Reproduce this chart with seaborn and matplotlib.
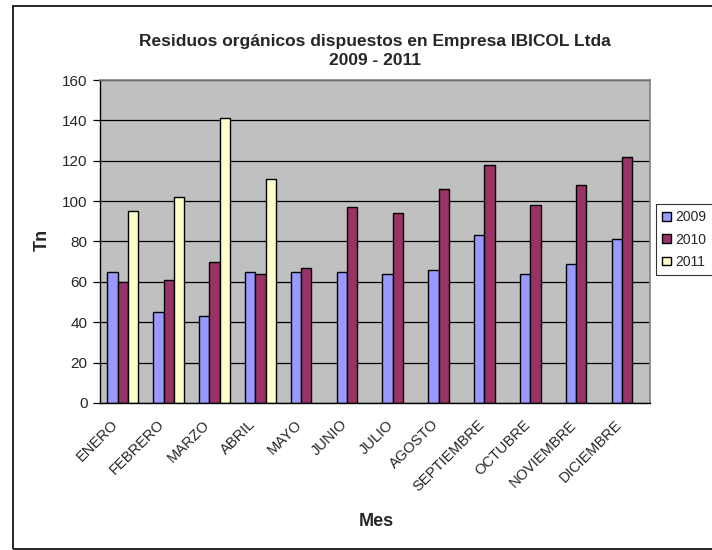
import pandas as pd
import numpy as np
import matplotlib
matplotlib.use('Agg')
import matplotlib.pyplot as plt
import matplotlib.transforms as mtransforms
import seaborn as sns
from matplotlib.patches import Rectangle

# Data (Tn per month)
meses = ['ENERO', 'FEBRERO', 'MARZO', 'ABRIL', 'MAYO', 'JUNIO', 'JULIO',
         'AGOSTO', 'SEPTIEMBRE', 'OCTUBRE', 'NOVIEMBRE', 'DICIEMBRE']
anios = ['2009', '2010', '2011']
v2009 = [65, 45, 43, 65, 65, 65, 64, 66, 83, 64, 69, 81]
v2010 = [60, 61, 70, 64, 67, 97, 94, 106, 118, 98, 108, 122]
v2011 = [95, 102, 141, 111, np.nan, np.nan, np.nan, np.nan, np.nan, np.nan, np.nan, np.nan]
colores = ['#9999FF', '#993366', '#FFFFCC']

df = pd.DataFrame({'Mes': meses, '2009': v2009, '2010': v2010, '2011': v2011})
df = df.melt(id_vars='Mes', var_name='Año', value_name='Tn')

sns.set_style('white')
plt.rcParams['font.family'] = ['Liberation Sans', 'DejaVu Sans']

fig = plt.figure(figsize=(7.12, 5.5), dpi=100)
ax = fig.add_axes([100 / 712, 1 - 403 / 550, 550 / 712, 323 / 550])
ax.set_facecolor('#C0C0C0')

sns.barplot(data=df, x='Mes', y='Tn', hue='Año', hue_order=anios, order=meses,
            palette=colores, width=0.68, edgecolor='black', linewidth=1.0,
            saturation=1, ax=ax, legend=True)

ax.set_ylim(0, 160)
ax.set_yticks(range(0, 161, 20))
ax.set_xlim(-0.5, len(meses) - 0.5)
ax.yaxis.grid(True, color='black', linewidth=0.9)
ax.set_axisbelow(True)

# x ticks at category borders, labels at centers
ax.set_xticks(np.arange(len(meses)))
ax.set_xticks(np.arange(-0.5, len(meses), 1), minor=True)
ax.tick_params(axis='x', which='major', length=0, pad=4)
ax.tick_params(axis='x', which='minor', length=5, width=0.9, color='black', direction='out')
ax.tick_params(axis='y', length=5, width=0.9, color='black', direction='out',
               labelsize=11, left=True, pad=4)
ax.set_xticklabels(meses, rotation=45, ha='right', rotation_mode='anchor', fontsize=10.5)
# nudge rotated month labels left/down like the reference
shift = mtransforms.ScaledTranslation(-12 / 100, -9 / 100, fig.dpi_scale_trans)
for lbl in ax.get_xticklabels():
    lbl.set_transform(lbl.get_transform() + shift)

for s in ['left', 'bottom']:
    ax.spines[s].set_color('black')
    ax.spines[s].set_linewidth(1.0)
for s in ['top', 'right']:
    ax.spines[s].set_visible(True)
    ax.spines[s].set_color('#808080')
    ax.spines[s].set_linewidth(1.2)

ax.set_xlabel('Mes', fontsize=13, fontweight='bold')
ax.xaxis.set_label_coords((376 - 100) / 550, -(522 - 403) / 323)
ax.xaxis.label.set_va('center')
ax.set_ylabel('Tn', fontsize=13, fontweight='bold')
ax.yaxis.set_label_coords(-(100 - 42) / 550, (403 - 240) / 323)
ax.yaxis.label.set_va('center')
ax.set_title('Residuos orgánicos dispuestos en Empresa IBICOL Ltda\n2009 - 2011',
             fontsize=12.5, fontweight='bold', pad=11, linespacing=1.35)

leg = ax.legend(loc='upper left', bbox_to_anchor=(656 / 712, 1 - 204 / 550),
                bbox_transform=fig.transFigure, frameon=True, fancybox=False,
                fontsize=10, handlelength=0.6, handleheight=0.6, handletextpad=0.35,
                labelspacing=0.6, borderpad=0.45, borderaxespad=0)
leg.get_frame().set_edgecolor('black')
leg.get_frame().set_linewidth(0.8)
leg.set_title(None)

# outer chart border (clipped at the right edge like the reference)
fig.patches.append(Rectangle((12.5 / 712, 1.5 / 550), 1.0, 1 - 7.5 / 550,
                             transform=fig.transFigure, fill=False,
                             edgecolor='black', linewidth=1.2))

fig.savefig('out.png', dpi=100)
